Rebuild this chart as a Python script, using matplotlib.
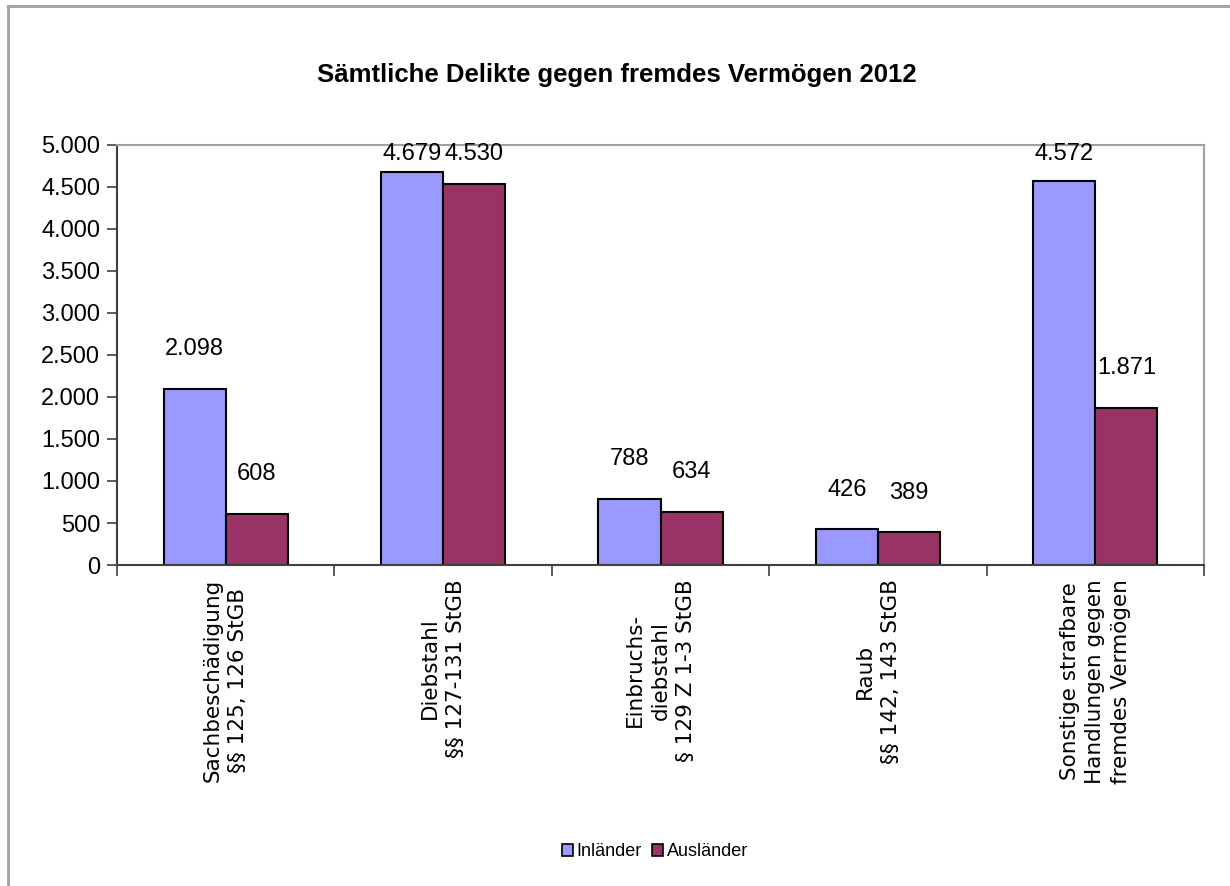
import numpy as np
import matplotlib
matplotlib.use("Agg")
import matplotlib.pyplot as plt
from matplotlib.lines import Line2D
from matplotlib.patches import Patch
from matplotlib.ticker import FuncFormatter, FixedLocator

categories = [
    "Sachbeschädigung\n§§ 125, 126 StGB",
    "Diebstahl\n§§ 127-131 StGB",
    "Einbruchs-\ndiebstahl\n§ 129 Z 1-3 StGB",
    "Raub\n§§ 142, 143 StGB",
    "Sonstige strafbare\nHandlungen gegen\nfremdes Vermögen",
]
inlaender = [2098, 4679, 788, 426, 4572]
auslaender = [608, 4530, 634, 389, 1871]
series_names = ["Inländer", "Ausländer"]
colors = ["#9999FF", "#993366"]

narrow = ["Liberation Sans", "DejaVu Sans"]


def de_fmt(v):
    return "{:,.0f}".format(v).replace(",", ".")


fig = plt.figure(figsize=(12.3, 8.86), dpi=100)
ax = fig.add_axes([117 / 1230, 1 - 565 / 886, (1204 - 117) / 1230, (565 - 145) / 886])

x = np.arange(len(categories))
w = 0.286
b1 = ax.bar(x - w / 2, inlaender, w, color=colors[0], edgecolor="black", linewidth=1.5)
b2 = ax.bar(x + w / 2, auslaender, w, color=colors[1], edgecolor="black", linewidth=1.5)

# value labels above the bars
for bars, vals in ((b1, inlaender), (b2, auslaender)):
    for rect, v in zip(bars, vals):
        ax.text(rect.get_x() + rect.get_width() / 2, min(v + 470, 4890), de_fmt(v),
                ha="center", va="center", fontsize=17, family=narrow, clip_on=False)

ax.set_xlim(-0.5, len(categories) - 0.5)
ax.set_ylim(0, 5000)
ax.set_yticks(np.arange(0, 5001, 500))
ax.yaxis.set_major_formatter(FuncFormatter(lambda v, p: de_fmt(v)))
for lab in ax.get_yticklabels():
    lab.set_family(narrow)
    lab.set_fontsize(17)
ax.tick_params(axis="y", direction="out", length=7, width=1.2, pad=5, color="#404040")

ax.set_xticks(x)
ax.set_xticklabels(categories, rotation=90, va="top", ha="center",
                   multialignment="center", fontsize=15.5, family="DejaVu Sans",
                   linespacing=1.35)
ax.tick_params(axis="x", which="major", length=0, pad=10)
ax.xaxis.set_minor_locator(FixedLocator(np.arange(-0.5, len(categories), 1.0)))
ax.tick_params(axis="x", which="minor", direction="out", length=8, width=1.2, color="#404040")

ax.spines["left"].set_color("#404040")
ax.spines["bottom"].set_color("#404040")
ax.spines["left"].set_linewidth(1.5)
ax.spines["bottom"].set_linewidth(1.5)
ax.spines["top"].set_color("#a0a0a0")
ax.spines["right"].set_color("#a0a0a0")
ax.spines["top"].set_linewidth(1.5)
ax.spines["right"].set_linewidth(1.5)

fig.text(617 / 1230, 1 - 75 / 886, "Sämtliche Delikte gegen fremdes Vermögen 2012",
         ha="center", va="center", fontsize=18.5, fontweight="bold", family=narrow)

handles = [Patch(facecolor=c, edgecolor="black", linewidth=1.2) for c in colors]
fig.legend(handles, series_names, loc="center", bbox_to_anchor=(655 / 1230, 1 - 852 / 886),
           ncol=2, frameon=False, handlelength=0.6, handleheight=0.6,
           handletextpad=0.2, columnspacing=0.6, prop={"family": narrow, "size": 13})

# outer frame of the original chart area
fig.add_artist(Line2D([8 / 1230, 1], [1 - 6 / 886, 1 - 6 / 886], transform=fig.transFigure,
                      color="#a0a0a0", linewidth=2))
fig.add_artist(Line2D([8 / 1230, 8 / 1230], [0, 1 - 6 / 886], transform=fig.transFigure,
                      color="#a0a0a0", linewidth=2))

fig.savefig("out.png", dpi=100)
